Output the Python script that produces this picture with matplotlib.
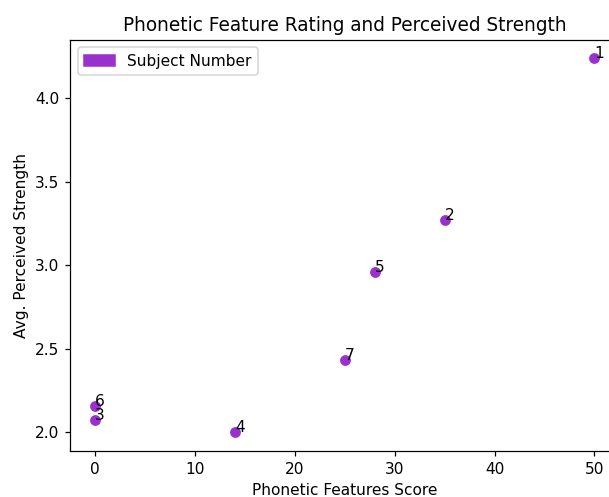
import matplotlib.pyplot as plt
from matplotlib.patches import Patch

# Subject data
subjects = ['1', '2', '3', '4', '5', '6', '7']
phonetic_score = [50, 35, 0, 14, 28, 0, 25]
perceived_strength = [4.24, 3.27, 2.075, 2.0, 2.96, 2.155, 2.435]

color = 'darkorchid'
dpi = 111

fig = plt.figure(figsize=(609 / dpi, 497 / dpi), dpi=dpi)
ax = fig.add_axes([0.115, 0.093, 0.902, 0.827])

ax.scatter(phonetic_score, perceived_strength, color=color)
for s, x, y in zip(subjects, phonetic_score, perceived_strength):
    ax.annotate(s, (x, y))

ax.set_title('Phonetic Feature Rating and Perceived Strength')
ax.set_xlabel('Phonetic Features Score')
ax.set_ylabel('Avg. Perceived Strength')
ax.legend(handles=[Patch(color=color, label='Subject Number')], loc='upper left')

fig.savefig('out.png', dpi=dpi)
